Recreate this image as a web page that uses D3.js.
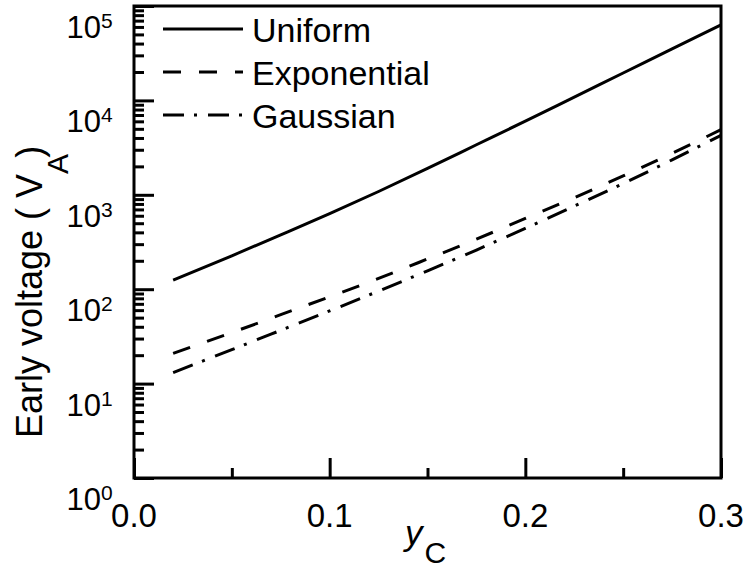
<!DOCTYPE html>
<html>
<head>
<meta charset="utf-8">
<script src="https://cdn.jsdelivr.net/npm/d3@7"></script>
<style>
  html, body { margin: 0; padding: 0; background: #fff; }
  svg { display: block; }
  text { font-family: "Liberation Sans", Arial, Helvetica, sans-serif; fill: #000; }
</style>
</head>
<body>
<svg id="chart" width="749" height="568"></svg>
<script>
// ---- data ----
const yC = [0.02, 0.05, 0.075, 0.1, 0.125, 0.15, 0.175, 0.2, 0.225, 0.25, 0.275, 0.3];
const uniform = [125, 226, 376, 631, 1084, 1905, 3388, 6026, 10840, 19500, 35080, 63100];
const exponential = [20.9, 34.7, 53.7, 83.2, 130, 209, 339, 562, 933, 1585, 2754, 4898];
const gaussian = [13.1, 22.9, 36.7, 58.9, 95.5, 156.7, 260, 441.6, 758.6, 1318, 2344, 4266];
const seriesNames = ["Uniform", "Exponential", "Gaussian"];
const xTicks = [0.0, 0.1, 0.2, 0.3];
const xTickLabels = ["0.0", "0.1", "0.2", "0.3"];
const xMinorTicks = [0.05, 0.15, 0.25];
const yDecades = [1, 10, 100, 1000, 10000, 100000];
const yExponents = ["0", "1", "2", "3", "4", "5"];

// ---- layout ----
const L = 134, R = 721, T = 6, B = 478;
const svg = d3.select("#chart");
const x = d3.scaleLinear().domain([0, 0.3]).range([L, R]);
const y = d3.scaleLog().domain([1, 1e5]).range([B, T]);

const dashes = ["none", "18,18", "21,10,3,11"];
const allSeries = [uniform, exponential, gaussian];

// curves
const line = d3.line().x(d => x(d[0])).y(d => y(d[1])).curve(d3.curveMonotoneX);
allSeries.forEach((vals, i) => {
  svg.append("path")
    .datum(yC.map((v, j) => [v, vals[j]]))
    .attr("d", line)
    .attr("fill", "none")
    .attr("stroke", "#000")
    .attr("stroke-width", 3)
    .attr("stroke-dasharray", dashes[i]);
});

// minor y ticks
const yMinor = [];
for (let e = 0; e < 5; e++) for (let m = 2; m <= 9; m++) yMinor.push(m * Math.pow(10, e));

const gy = svg.append("g").attr("transform", `translate(${L},0)`);
gy.call(d3.axisRight(y).tickValues(yMinor).tickSize(10).tickFormat(""));
const gy2 = svg.append("g").attr("transform", `translate(${L},0)`);
gy2.call(d3.axisRight(y).tickValues(yDecades).tickSize(20).tickFormat(""));

const gx = svg.append("g").attr("transform", `translate(0,${B})`);
gx.call(d3.axisTop(x).tickValues(xMinorTicks).tickSize(10).tickFormat(""));
const gx2 = svg.append("g").attr("transform", `translate(0,${B})`);
gx2.call(d3.axisTop(x).tickValues(xTicks).tickSize(20).tickFormat(""));

[gy, gy2, gx, gx2].forEach(g => {
  g.selectAll(".domain").remove();
  g.selectAll(".tick line").attr("stroke", "#000").attr("stroke-width", 3);
});

// frame
svg.append("rect")
  .attr("x", L).attr("y", T).attr("width", R - L).attr("height", B - T)
  .attr("fill", "none").attr("stroke", "#000").attr("stroke-width", 3);

// x tick labels
xTicks.forEach((t, i) => {
  svg.append("text")
    .attr("x", x(t)).attr("y", 527)
    .attr("text-anchor", "middle")
    .attr("font-size", 33)
    .text(xTickLabels[i]);
});

// y tick labels (10^n)
yDecades.forEach((d, i) => {
  svg.append("text")
    .attr("x", 101).attr("y", y(d) + 32)
    .attr("text-anchor", "end")
    .attr("font-size", 31)
    .text("10");
  svg.append("text")
    .attr("x", 101).attr("y", y(d) + 22)
    .attr("font-size", 21)
    .text(yExponents[i]);
});

// x axis title
const xt = svg.append("text").attr("x", 405).attr("y", 545).attr("font-size", 35);
xt.append("tspan").attr("font-style", "italic").text("y");
xt.append("tspan").attr("font-size", 30).attr("dy", 18).attr("dx", 2).text("C");

// y axis title
const yt = svg.append("text")
  .attr("transform", "translate(42,438) rotate(-90)")
  .attr("font-size", 36);
yt.append("tspan").text("Early voltage ( V");
yt.append("tspan").attr("font-size", 30).attr("dy", 26).text("A");
yt.append("tspan").attr("dy", -26).attr("dx", -4).text(")");

// legend
const legY = [29, 72, 115];
const legTextY = [42, 85, 128];
seriesNames.forEach((n, i) => {
  svg.append("line")
    .attr("x1", 163).attr("x2", 243)
    .attr("y1", legY[i]).attr("y2", legY[i])
    .attr("stroke", "#000").attr("stroke-width", 3)
    .attr("stroke-dasharray", dashes[i]);
  svg.append("text")
    .attr("x", 252).attr("y", legTextY[i])
    .attr("font-size", 34)
    .text(n);
});
</script>
</body>
</html>
